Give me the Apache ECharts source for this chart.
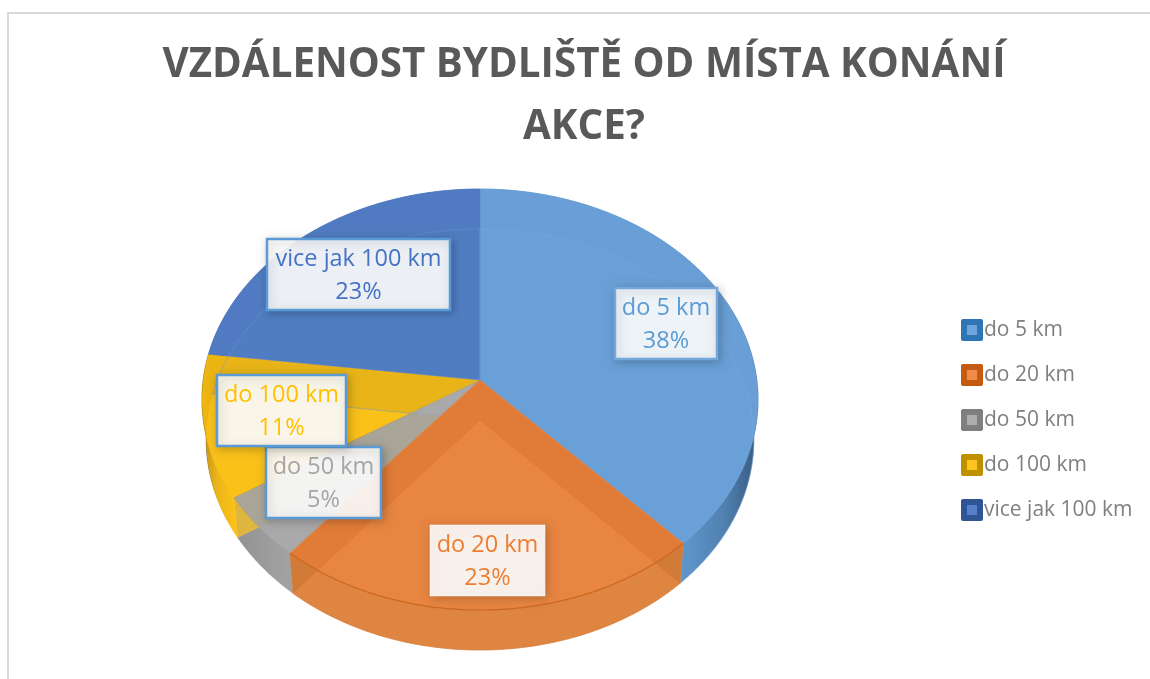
<!DOCTYPE html>
<html>
<head>
<meta charset="utf-8">
<style>html,body{margin:0;padding:0;background:#fff}#c{width:1150px;height:679px}</style>
<script src="https://cdn.jsdelivr.net/npm/echarts@6/dist/echarts.min.js"></script>
</head>
<body>
<div id="c"></div>
<script>
const categories = ['do 5 km', 'do 20 km', 'do 50 km', 'do 100 km', 'vice jak 100 km'];
const values = [38, 23, 5, 11, 23];
const titleText = 'VZDÁLENOST BYDLIŠTĚ OD MÍSTA KONÁNÍ\nAKCE?';

const textColors = ['#5B9BD5', '#ED7D31', '#A5A5A5', '#FFC000', '#4472C4'];
const topColors = ['#699FD6', '#E07B38', 'rgba(160,160,160,0.9)', '#EDB512', '#507BC2'];
const ghostColors = ['rgba(120,180,240,0.03)', 'rgba(255,163,88,0.28)', 'rgba(190,190,190,0.05)', 'rgba(255,198,28,0.7)', 'rgba(110,150,230,0.03)'];
const ghostEdges = ['rgba(120,170,215,0.6)', 'rgba(215,115,45,0.45)', 'rgba(0,0,0,0)', 'rgba(0,0,0,0)', 'rgba(110,150,215,0.6)'];
const legendOuter = ['#2E75B6', '#C55A11', '#7F7F7F', '#BF9000', '#2F5597'];
const legendInner = ['#70A5DC', '#F08C4A', '#ADADAD', '#FFC41F', '#5580CC'];
const boxes = [
  {x: 615, y: 288, w: 102, h: 71, border: '#74A8DC'},
  {x: 430, y: 525, w: 115, h: 71, border: null},
  {x: 266, y: 447, w: 115, h: 71, border: '#5B9BD5'},
  {x: 217, y: 375, w: 129, h: 71, border: '#5B9BD5'},
  {x: 267, y: 239, w: 183, h: 71, border: '#5B9BD5'}
];

// Projection of the tilted disc; the hub lies above the middle of the ellipse.
const CX = 480, CY = 380, PX = 276.8, PY = 208.7, K = 0.0927, DEPTH = 40, FLOOR_X = 0.985;
function project(theta, lift) {
  const u = Math.sin(theta), v = -Math.cos(theta), d = 1 - K * v;
  const x = PX * u / d, y = PY * v / d;
  return lift ? [CX + x * FLOOR_X, CY + y + DEPTH] : [CX + x, CY + y];
}
const total = values.reduce((a, b) => a + b, 0);
const starts = [];
values.reduce((acc, v, i) => { starts[i] = acc; return acc + v; }, 0);
function arc(i, lift, reverse) {
  const a = starts[i] / total * 2 * Math.PI, b = (starts[i] + values[i]) / total * 2 * Math.PI;
  const n = Math.max(6, Math.ceil((b - a) / 0.012)), pts = [];
  for (let k = 0; k <= n; k++) pts.push(project(a + (b - a) * k / n, lift));
  return reverse ? pts.reverse() : pts;
}
function linear(x, y, x2, y2, stops) {
  return {type: 'linear', global: true, x, y, x2, y2,
    colorStops: stops.map(s => ({offset: s[0], color: s[1]}))};
}
const wallFills = [
  linear(680, 0, 760, 0, [[0, '#5F97CC'], [0.55, '#4F7FAD'], [1, '#34557A']]),
  '#D27A38',
  linear(235, 0, 295, 0, [[0, '#8F8F8F'], [1, '#A3A3A3']]),
  linear(205, 0, 240, 0, [[0, '#3E300A'], [0.35, '#C09010'], [1, '#FFC218']]),
  linear(205, 0, 240, 0, [[0, '#3A5590'], [1, '#4A70B8']])
];
const dataRows = categories.map((c, i) => [c, values[i]]);

function sector(i, lift) {
  return [lift ? [CX, CY + DEPTH] : [CX, CY]].concat(arc(i, lift, false));
}
// Each layer is drawn for the listed slices only, so that the see-through floor
// of one slice tints only what lies behind it.
const wallShape = i => ({type: 'polygon', shape: {points: arc(i, false, false).concat(arc(i, true, true))},
  style: {fill: wallFills[i], stroke: wallFills[i], lineWidth: 0.5}});
const topShape = i => ({type: 'polygon', shape: {points: sector(i, false)},
  style: {fill: topColors[i], stroke: i === 2 ? 'rgba(120,120,110,0.5)' : topColors[i], lineWidth: 0.5}});
const ghostShape = i => ({type: 'polygon', shape: {points: sector(i, true)},
  style: {fill: ghostColors[i], stroke: ghostEdges[i], lineWidth: 0.8}});
const rimShape = i => ({type: 'polyline', shape: {points: arc(i, false, false)},
  style: {fill: 'none', stroke: '#C9661F', lineWidth: 1.2}});
const only = (list, make) => p => list.includes(p.dataIndex) ? make(p.dataIndex) : null;

function dataLabel(p, api) {
  const i = p.dataIndex, b = boxes[i];
  return {type: 'group', children: [
    {type: 'rect', shape: {x: b.x, y: b.y, width: b.w, height: b.h},
      style: {fill: 'rgba(255,255,255,0.9)', stroke: b.border || 'rgba(255,255,255,0.5)', lineWidth: b.border ? 2.5 : 1,
        shadowBlur: 9, shadowColor: 'rgba(0,0,0,0.22)', shadowOffsetX: 2, shadowOffsetY: 2}},
    {type: 'text', style: {x: b.x + b.w / 2, y: b.y + b.h / 2 + 1,
      text: api.value(0) + '\n' + Math.round(api.value(1) / total * 100) + '%',
      fill: textColors[i], font: '23.5px "Open Sans"', align: 'center', verticalAlign: 'middle', lineHeight: 33}}
  ]};
}
function legendItem(p, api) {
  const i = p.dataIndex, y = 330 + i * 45;
  return {type: 'group', children: [
    {type: 'rect', shape: {x: 961, y: y - 11, width: 22, height: 22, r: 2}, style: {fill: legendOuter[i]}},
    {type: 'rect', shape: {x: 967, y: y - 5, width: 10, height: 10}, style: {fill: legendInner[i]}},
    {type: 'text', style: {x: 984, y: y, text: api.value(0), fill: '#7F7F7F',
      font: '21px "Open Sans"', align: 'left', verticalAlign: 'middle'}}
  ]};
}
function layer(name, fn, z) {
  return {type: 'custom', name, coordinateSystem: 'none', renderItem: fn, data: dataRows, z, silent: true, animation: false,
    encode: {itemName: 0, value: 1}};
}
const chart = echarts.init(document.getElementById('c'), null, {renderer: 'canvas'});
chart.setOption({
  animation: false,
  backgroundColor: '#fff',
  title: {
    text: titleText, left: 579, top: 30, textAlign: 'center',
    textStyle: {color: '#595959', fontFamily: '"Open Sans"', fontWeight: 'bold', fontSize: 40.3, lineHeight: 62}
  },
  graphic: [{type: 'polyline', shape: {points: [[8, 679], [8, 13], [1150, 13]]}, style: {fill: 'none', stroke: '#D9D9D9', lineWidth: 2}, silent: true}],
  series: [
    layer('walls', only([0, 2, 3, 4], wallShape), 2),
    layer('tops', only([0, 3, 4], topShape), 3),
    layer('floors', only([0, 2, 3, 4], ghostShape), 4),
    layer('greyTop', only([2], topShape), 5),
    layer('orangeWall', only([1], wallShape), 6),
    layer('orangeTop', only([1], topShape), 7),
    layer('orangeFloor', only([1], ghostShape), 8),
    layer('rim', only([1], rimShape), 9),
    layer('labels', dataLabel, 10),
    layer('legend', legendItem, 11)
  ]
});
</script>
</body>
</html>
